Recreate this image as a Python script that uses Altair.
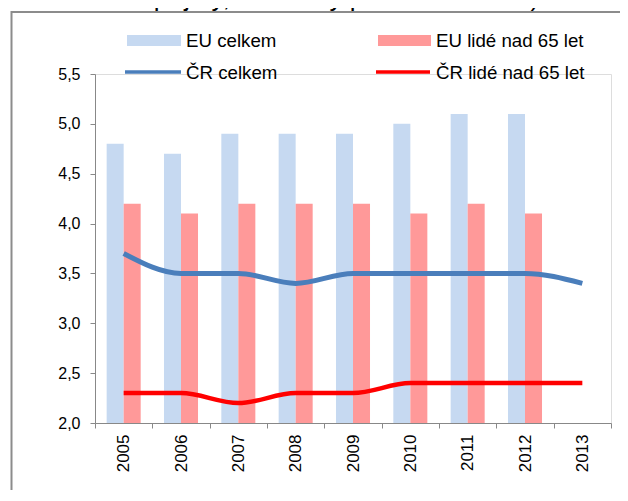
import altair as alt
import pandas as pd

years = ["2005", "2006", "2007", "2008", "2009", "2010", "2011", "2012", "2013"]
eu_total = [4.8, 4.7, 4.9, 4.9, 4.9, 5.0, 5.1, 5.1, None]
eu_65 = [4.2, 4.1, 4.2, 4.2, 4.2, 4.1, 4.2, 4.1, None]
cz_total = [3.7, 3.5, 3.5, 3.4, 3.5, 3.5, 3.5, 3.5, 3.4]
cz_65 = [2.3, 2.3, 2.2, 2.3, 2.3, 2.4, 2.4, 2.4, 2.4]

bar_series = ["EU celkem", "EU lidé nad 65 let"]
line_series = ["ČR celkem", "ČR lidé nad 65 let"]
title_line = "příjmy, kvintilový poměr S80/S20)"

FONT = "Liberation Sans"
BAR_COLORS = ["#C6D9F1", "#FF9999"]
LINE_COLORS = ["#4A7EBB", "#FF0000"]

rows = []
for y, a, b in zip(years, eu_total, eu_65):
    if a is not None:
        rows.append({"year": y, "series": bar_series[0], "value": a})
    if b is not None:
        rows.append({"year": y, "series": bar_series[1], "value": b})
bars_df = pd.DataFrame(rows)

lrows = []
for y, a, b in zip(years, cz_total, cz_65):
    lrows.append({"year": y, "series": line_series[0], "value": a})
    lrows.append({"year": y, "series": line_series[1], "value": b})
lines_df = pd.DataFrame(lrows)

one = pd.DataFrame({"a": [0]})

xscale = alt.Scale(type="band", domain=years, paddingInner=0, paddingOuter=0)
yscale = alt.Scale(domain=[2.0, 5.5], zero=False, nice=False)

bars = alt.Chart(bars_df).mark_bar(clip=True).encode(
    x=alt.X("year:N", scale=xscale, sort=years,
            axis=alt.Axis(title=None, labelAngle=270, labelAlign="right",
                          labelBaseline="middle", tickBand="extent",
                          labelFont=FONT, labelFontSize=17, labelColor="#000000",
                          labelPadding=6, tickSize=5, tickColor="#888888",
                          domainColor="#888888", grid=False)),
    xOffset=alt.XOffset("series:N", sort=bar_series,
                        scale=alt.Scale(domain=bar_series, paddingInner=0, paddingOuter=0.685)),
    y=alt.Y("value:Q", scale=yscale,
            axis=alt.Axis(title=None, values=[2.0, 2.5, 3.0, 3.5, 4.0, 4.5, 5.0, 5.5],
                          labelExpr="replace(format(datum.value, '.1f'), '.', ',')",
                          labelFont=FONT, labelFontSize=16, labelColor="#000000",
                          labelPadding=10, tickSize=5, tickColor="#888888",
                          domainColor="#888888", grid=False)),
    color=alt.Color("series:N", scale=alt.Scale(domain=bar_series, range=BAR_COLORS), legend=None),
)

lines = alt.Chart(lines_df).mark_line(interpolate="monotone").encode(
    x=alt.X("year:N", scale=xscale, sort=years, bandPosition=0.5),
    y=alt.Y("value:Q", scale=yscale),
    color=alt.Color("series:N", scale=alt.Scale(domain=line_series, range=LINE_COLORS), legend=None),
    strokeWidth=alt.StrokeWidth("series:N", scale=alt.Scale(domain=line_series, range=[5, 4.5]), legend=None),
)

box = alt.Chart(one).mark_rect(fill=None, stroke="#8C8C8C", strokeWidth=2).encode(
    x=alt.value(-83.5), x2=alt.value(700), y=alt.value(-62), y2=alt.value(600)
)

title = alt.Chart(one).mark_text(
    text=title_line, font=FONT, fontSize=26, align="center", baseline="alphabetic", color="#000000"
).encode(x=alt.value(251.5), y=alt.value(-68))

# legend
leg_rect1 = alt.Chart(one).mark_rect(color=BAR_COLORS[0]).encode(
    x=alt.value(32), x2=alt.value(86), y=alt.value(-39), y2=alt.value(-28))
leg_rect2 = alt.Chart(one).mark_rect(color=BAR_COLORS[1]).encode(
    x=alt.value(283), x2=alt.value(336), y=alt.value(-39), y2=alt.value(-28))
leg_line1 = alt.Chart(one).mark_rule(color=LINE_COLORS[0], strokeWidth=3.5).encode(
    x=alt.value(30), x2=alt.value(86), y=alt.value(-2))
leg_line2 = alt.Chart(one).mark_rule(color=LINE_COLORS[1], strokeWidth=3.5).encode(
    x=alt.value(281), x2=alt.value(335), y=alt.value(-2))

def leg_text(label, x, y):
    return alt.Chart(one).mark_text(
        text=label, font=FONT, fontSize=18.7, align="left", baseline="middle", color="#000000"
    ).encode(x=alt.value(x), y=alt.value(y))

legend = [
    leg_rect1, leg_rect2, leg_line1, leg_line2,
    leg_text(bar_series[0], 91, -33),
    leg_text(bar_series[1], 341, -33),
    leg_text(line_series[0], 91, -1),
    leg_text(line_series[1], 341, -1),
]

chart = alt.layer(box, title, bars, lines, *legend).resolve_scale(
    color="independent", strokeWidth="independent"
).properties(
    width=516, height=349,
    padding={"left": 87, "top": 66, "right": 9, "bottom": 67},
    autosize=alt.AutoSizeParams(type="none"),
).configure_view(stroke=None).configure(background="#FFFFFF")

chart.save("out.html", embed_options={"renderer": "svg", "actions": False})
